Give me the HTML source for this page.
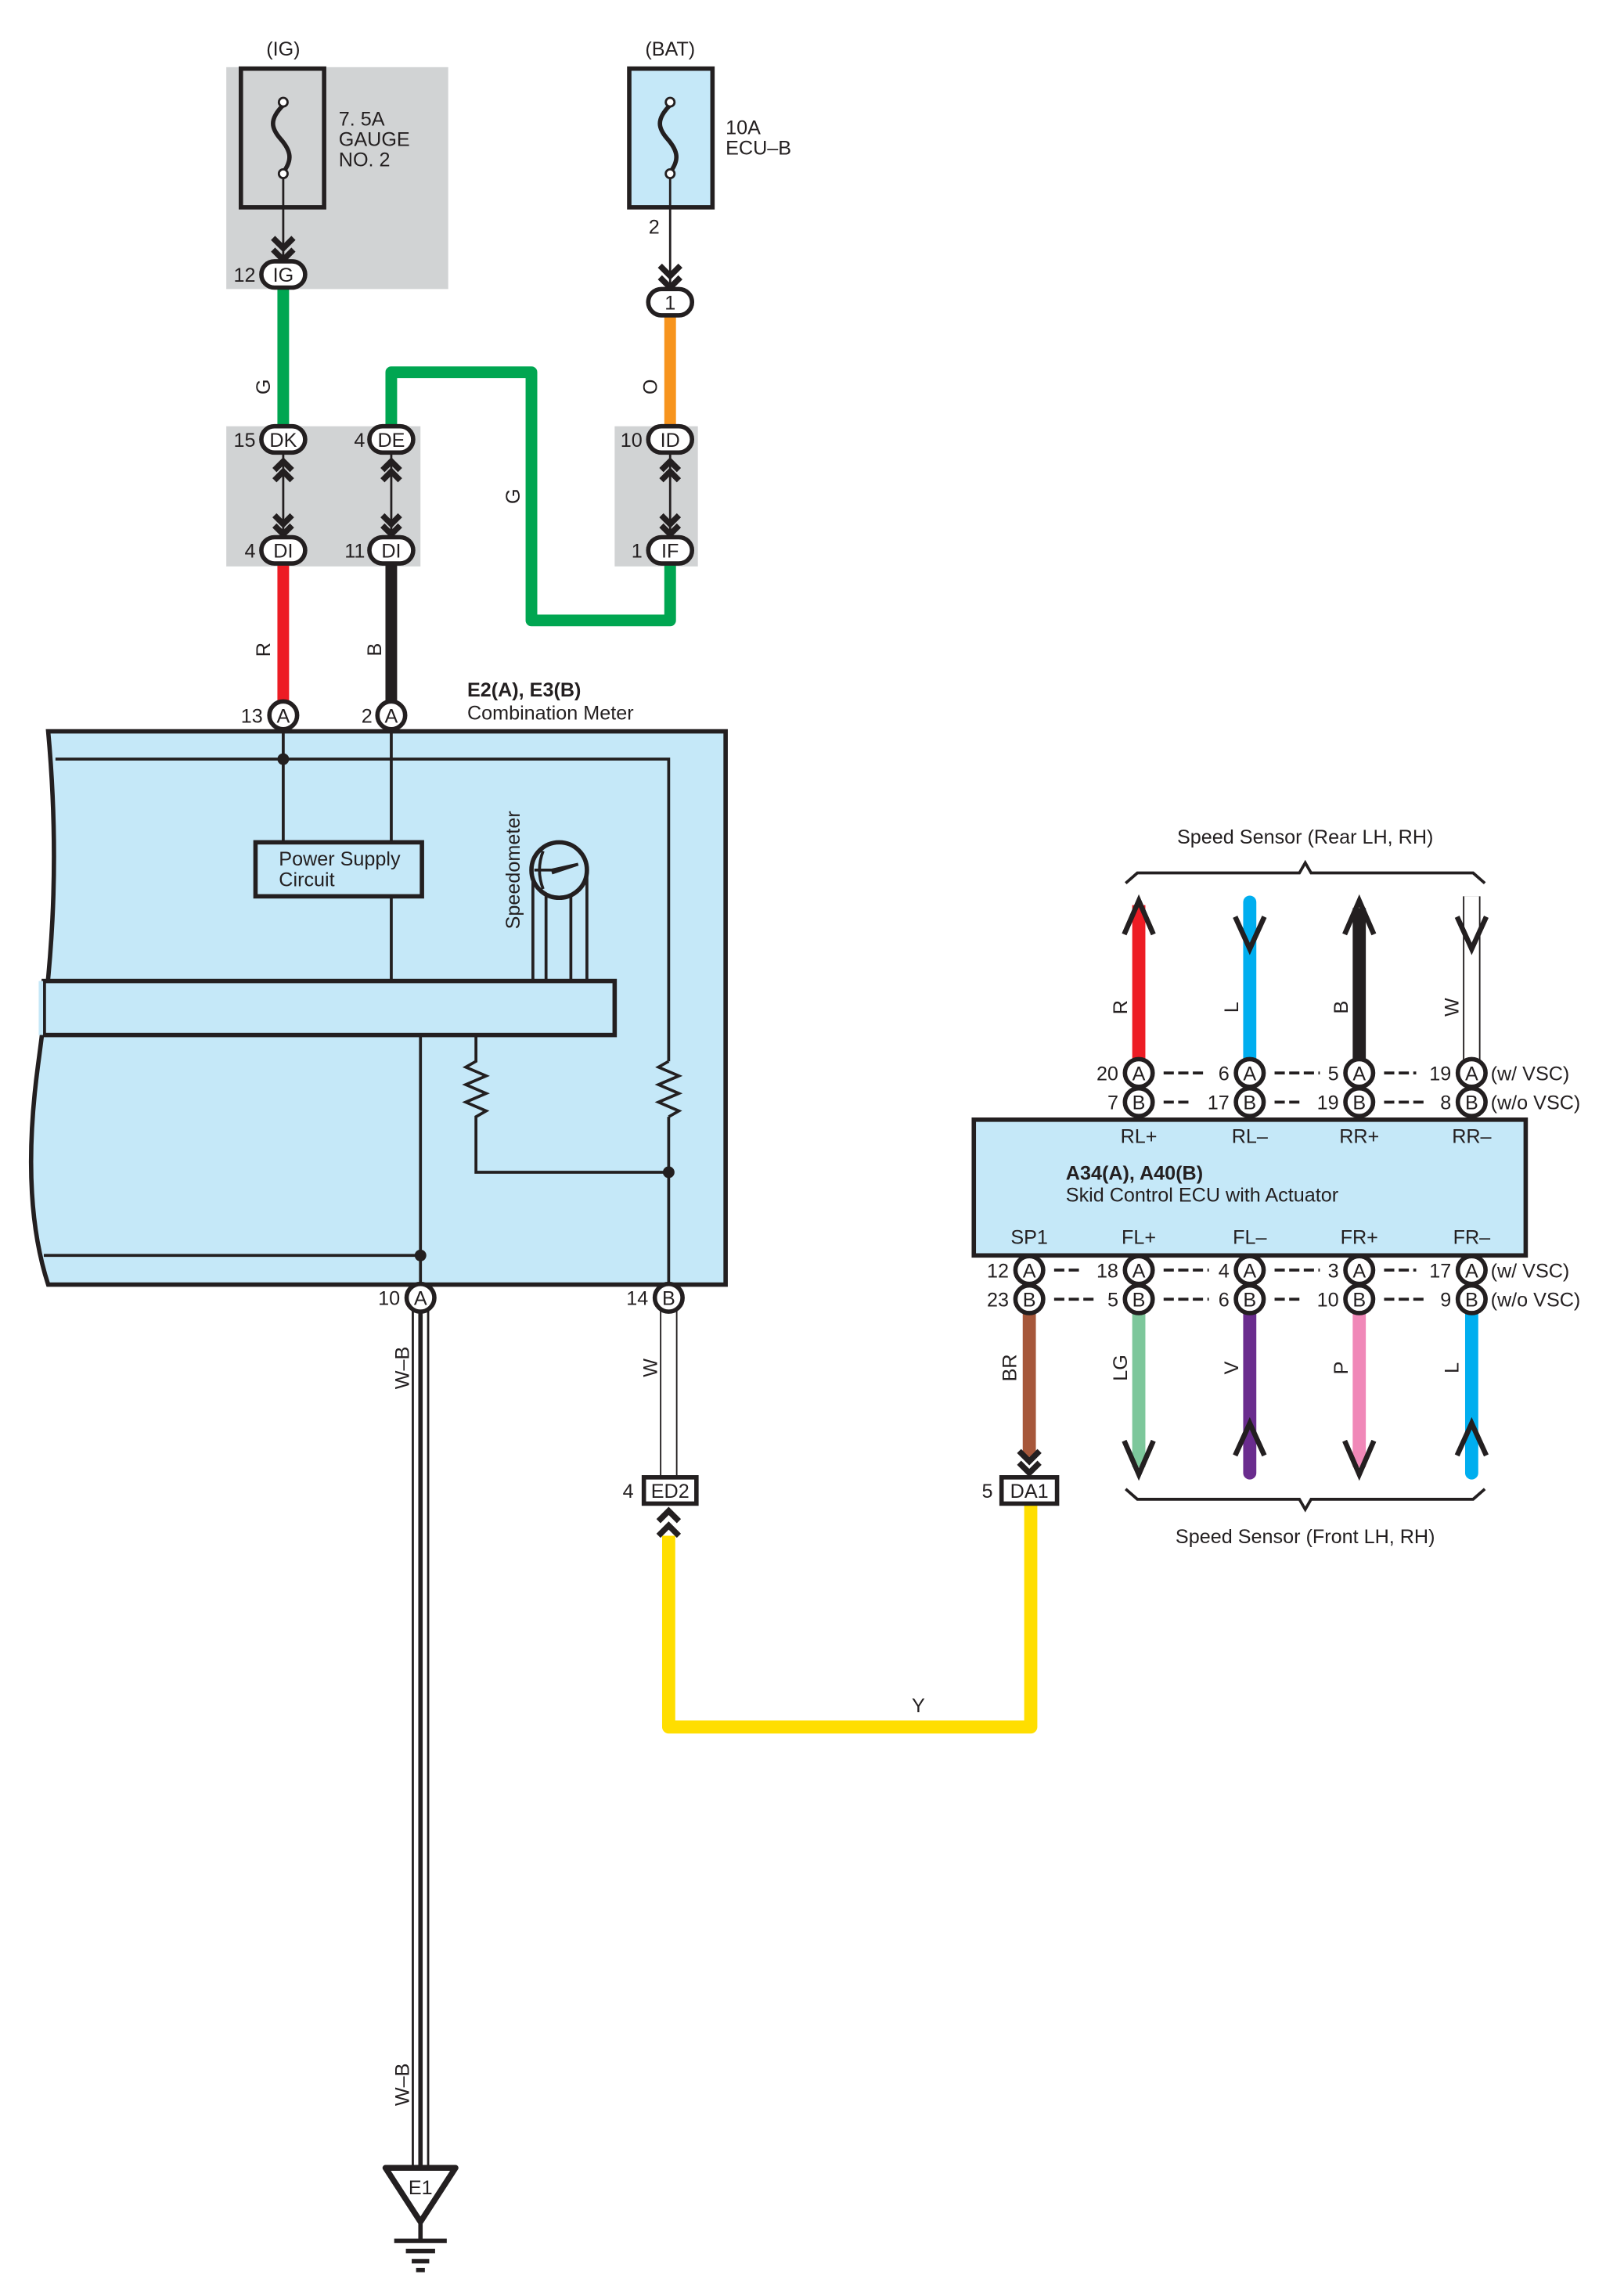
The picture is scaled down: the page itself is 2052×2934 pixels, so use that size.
<!DOCTYPE html>
<html><head><meta charset="utf-8"><style>
html,body{margin:0;padding:0;background:#fff}
svg{display:block}
text{font-family:"Liberation Sans",sans-serif;fill:#231f20}
</style></head><body>
<svg width="2052" height="2934" viewBox="0 0 1100 1572.8" xmlns="http://www.w3.org/2000/svg">
<g font-size="13.5">
<!-- ===== TOP FUSES ===== -->
<text x="194" y="38" text-anchor="middle">(IG)</text>
<text x="459" y="38" text-anchor="middle">(BAT)</text>
<rect x="155" y="46" width="152" height="152" fill="#d1d3d4"/>
<rect x="165" y="47" width="57" height="95" fill="none" stroke="#231f20" stroke-width="3"/>
<path d="M194 72 C184 82,186 88,192 95 C200 104,200 110,194 118" fill="none" stroke="#231f20" stroke-width="3"/>
<circle cx="194" cy="70" r="3" fill="#fff" stroke="#231f20" stroke-width="1.5"/>
<circle cx="194" cy="119" r="3" fill="#fff" stroke="#231f20" stroke-width="1.5"/>
<line x1="194" y1="122" x2="194" y2="178" stroke="#231f20" stroke-width="1.5"/>
<path d="M187 163 L194 170 L201 163 M187 171 L194 178 L201 171" fill="none" stroke="#231f20" stroke-width="4"/>
<text x="232" y="86">7. 5A</text><text x="232" y="100">GAUGE</text><text x="232" y="114">NO. 2</text>

<rect x="431" y="47" width="57" height="95" fill="#c5e8f8" stroke="#231f20" stroke-width="3"/>
<path d="M459 72 C449 82,451 88,457 95 C465 104,465 110,459 118" fill="none" stroke="#231f20" stroke-width="3"/>
<circle cx="459" cy="70" r="3" fill="#fff" stroke="#231f20" stroke-width="1.5"/>
<circle cx="459" cy="119" r="3" fill="#fff" stroke="#231f20" stroke-width="1.5"/>
<line x1="459" y1="122" x2="459" y2="197" stroke="#231f20" stroke-width="1.5"/>
<path d="M452 182 L459 189 L466 182 M452 190 L459 197 L466 190" fill="none" stroke="#231f20" stroke-width="4"/>
<text x="497" y="92">10A</text><text x="497" y="106">ECU–B</text>
<text x="448" y="160" text-anchor="middle">2</text>

<!-- gray junction boxes -->
<rect x="155" y="292" width="133" height="96" fill="#d1d3d4"/>
<rect x="421" y="292" width="57" height="96" fill="#d1d3d4"/>

<!-- colored wires top -->
<line x1="194" y1="198" x2="194" y2="292" stroke="#00a651" stroke-width="8"/>
<line x1="459" y1="217" x2="459" y2="292" stroke="#f7941d" stroke-width="8"/>
<path d="M268 292 V255 H364 V425 H459 V387" fill="none" stroke="#00a651" stroke-width="8" stroke-linejoin="round"/>
<line x1="194" y1="387" x2="194" y2="482" stroke="#ed1c24" stroke-width="8"/>
<line x1="268" y1="387" x2="268" y2="482" stroke="#231f20" stroke-width="8"/>
<text transform="translate(185,265) rotate(-90)" text-anchor="middle">G</text>
<text transform="translate(450,265) rotate(-90)" text-anchor="middle">O</text>
<text transform="translate(356,340) rotate(-90)" text-anchor="middle">G</text>
<text transform="translate(185,445) rotate(-90)" text-anchor="middle">R</text>
<text transform="translate(261,445) rotate(-90)" text-anchor="middle">B</text>

<!-- double arrow links -->
<g fill="none" stroke="#231f20">
<line x1="194" y1="310" x2="194" y2="368" stroke-width="1.5"/>
<line x1="268" y1="310" x2="268" y2="368" stroke-width="1.5"/>
<line x1="459" y1="310" x2="459" y2="368" stroke-width="1.5"/>
<path d="M188 322 L194 316 L200 322 M188 329 L194 323 L200 329 M188 353 L194 359 L200 353 M188 360 L194 366 L200 360" stroke-width="4"/>
<path d="M262 322 L268 316 L274 322 M262 329 L268 323 L274 329 M262 353 L268 359 L274 353 M262 360 L268 366 L274 360" stroke-width="4"/>
<path d="M453 322 L459 316 L465 322 M453 329 L459 323 L465 329 M453 353 L459 359 L465 353 M453 360 L459 366 L465 360" stroke-width="4"/>
</g>

<!-- oval connectors -->
<g fill="#fff" stroke="#231f20" stroke-width="3">
<rect x="179" y="179" width="30" height="18" rx="9"/>
<rect x="444" y="198" width="30" height="18" rx="9"/>
<rect x="179" y="292" width="30" height="18" rx="9"/>
<rect x="253" y="292" width="30" height="18" rx="9"/>
<rect x="179" y="368" width="30" height="18" rx="9"/>
<rect x="253" y="368" width="30" height="18" rx="9"/>
<rect x="444" y="292" width="30" height="18" rx="9"/>
<rect x="444" y="368" width="30" height="18" rx="9"/>
</g>
<g text-anchor="middle">
<text x="194" y="193">IG</text><text x="459" y="212">1</text>
<text x="194" y="306">DK</text><text x="268" y="306">DE</text>
<text x="194" y="382">DI</text><text x="268" y="382">DI</text>
<text x="459" y="306">ID</text><text x="459" y="382">IF</text>
</g>
<g text-anchor="end">
<text x="175" y="193">12</text>
<text x="175" y="306">15</text><text x="250" y="306">4</text>
<text x="175" y="382">4</text><text x="250" y="382">11</text>
<text x="440" y="306">10</text><text x="440" y="382">1</text>
</g>

<!-- ===== COMBINATION METER ===== -->
<path d="M33 501 H497 V880 H33 C20 840,18 790,26 730 C34 670,42 600,33 501 Z" fill="#c5e8f8" stroke="#231f20" stroke-width="3"/>
<g fill="none" stroke="#231f20" stroke-width="2">
<path d="M38 520 H458 V727 M458 765 V880"/>
<path d="M458 727 l-7 4 l14 6 l-14 6 l14 6 l-14 6 l14 6 l-7 4"/>
<line x1="194" y1="501" x2="194" y2="577"/>
<line x1="268" y1="501" x2="268" y2="672"/>
<path d="M326 709 V727 l-7 4 l14 6 l-14 6 l14 6 l-14 6 l14 6 l-7 4 V803 H458"/>
<line x1="288" y1="709" x2="288" y2="880"/>
<line x1="30" y1="860" x2="288" y2="860"/>
<path d="M365 596 V672 M374 612 V672 M391 612 V672 M402 596 V672"/>
</g>
<rect x="175" y="577" width="114" height="37" fill="#c5e8f8" stroke="#231f20" stroke-width="3"/>
<text x="191" y="593">Power Supply</text><text x="191" y="607">Circuit</text>
<rect x="30" y="672" width="391" height="37" fill="#c5e8f8" stroke="#231f20" stroke-width="3"/>
<line x1="28" y1="672" x2="28" y2="709" stroke="#c5e8f8" stroke-width="3"/>
<circle cx="383" cy="596" r="19" fill="#c5e8f8" stroke="#231f20" stroke-width="3"/>
<path d="M372 583 Q367 596 372 609 M366 596 H378 L396 592 L378 598" fill="none" stroke="#231f20" stroke-width="2"/>
<text transform="translate(356,596) rotate(-90)" text-anchor="middle">Speedometer</text>
<g fill="#231f20">
<circle cx="194" cy="520" r="4"/><circle cx="458" cy="803" r="4"/><circle cx="288" cy="860" r="4"/>
</g>
<text x="320" y="477" font-weight="bold">E2(A), E3(B)</text>
<text x="320" y="493">Combination Meter</text>

<!-- ===== WIRES BELOW METER ===== -->
<line x1="288" y1="898" x2="288" y2="1485" stroke="#231f20" stroke-width="12"/>
<line x1="288" y1="898" x2="288" y2="1485" stroke="#fff" stroke-width="9"/>
<line x1="288" y1="898" x2="288" y2="1485" stroke="#231f20" stroke-width="3"/>
<line x1="458" y1="898" x2="458" y2="1012" stroke="#231f20" stroke-width="12"/>
<line x1="458" y1="898" x2="458" y2="1012" stroke="#fff" stroke-width="10"/>
<text transform="translate(280,937) rotate(-90)" text-anchor="middle">W–B</text>
<text transform="translate(280,1428) rotate(-90)" text-anchor="middle">W–B</text>
<text transform="translate(450,937) rotate(-90)" text-anchor="middle">W</text>
<!-- ground -->
<path d="M264 1485 H312 L288 1522 Z" fill="#fff" stroke="#231f20" stroke-width="4" stroke-linejoin="round"/>
<text x="288" y="1503" text-anchor="middle">E1</text>
<g stroke="#231f20" stroke-width="3">
<line x1="288" y1="1522" x2="288" y2="1535"/>
<line x1="270" y1="1535" x2="306" y2="1535"/>
<line x1="278" y1="1542" x2="298" y2="1542"/>
<line x1="282" y1="1549" x2="294" y2="1549"/>
<line x1="285" y1="1555" x2="291" y2="1555"/>
</g>

<!-- yellow -->
<path d="M458 1052 V1183 H706 V1030" fill="none" stroke="#ffde00" stroke-width="9" stroke-linejoin="round"/>
<text x="629" y="1173" text-anchor="middle">Y</text>
<path d="M451 1042 L458 1035 L465 1042 M451 1052 L458 1045 L465 1052" fill="none" stroke="#231f20" stroke-width="4"/>
<rect x="441" y="1012" width="36" height="18" fill="#fff" stroke="#231f20" stroke-width="3"/>
<text x="459" y="1026" text-anchor="middle">ED2</text>
<text x="434" y="1026" text-anchor="end">4</text>
<!-- brown -->
<line x1="705" y1="899" x2="705" y2="998" stroke="#a6573a" stroke-width="9"/>
<path d="M698 994 L705 1001 L712 994 M698 1002 L705 1009 L712 1002" fill="none" stroke="#231f20" stroke-width="4"/>
<rect x="686" y="1012" width="38" height="18" fill="#fff" stroke="#231f20" stroke-width="3"/>
<text x="705" y="1026" text-anchor="middle">DA1</text>
<text x="680" y="1026" text-anchor="end">5</text>
<text transform="translate(696,937) rotate(-90)" text-anchor="middle">BR</text>

<!-- ===== ECU ===== -->
<text x="894" y="578" text-anchor="middle">Speed Sensor (Rear LH,  RH)</text>
<path d="M771 605 L779 598 H890 L894 591 L898 598 H1009 L1017 605" fill="none" stroke="#231f20" stroke-width="2"/>
<!-- top wires -->
<line x1="780" y1="620" x2="780" y2="727" stroke="#ed1c24" stroke-width="9"/>
<path d="M770 640 L780 617 L790 640" fill="none" stroke="#231f20" stroke-width="3.5"/>
<line x1="856" y1="618" x2="856" y2="727" stroke="#00aeef" stroke-width="9" stroke-linecap="round"/>
<path d="M846 628 L856 650 L866 628" fill="none" stroke="#231f20" stroke-width="3.5"/>
<line x1="931" y1="622" x2="931" y2="727" stroke="#231f20" stroke-width="9"/>
<path d="M921 640 L931 617 L941 640" fill="none" stroke="#231f20" stroke-width="3.5"/>
<line x1="1008" y1="614" x2="1008" y2="727" stroke="#231f20" stroke-width="12"/>
<line x1="1008" y1="614" x2="1008" y2="727" stroke="#fff" stroke-width="10"/>
<path d="M998 628 L1008 650 L1018 628" fill="none" stroke="#231f20" stroke-width="3.5"/>
<g text-anchor="middle">
<text transform="translate(772,690) rotate(-90)">R</text>
<text transform="translate(848,690) rotate(-90)">L</text>
<text transform="translate(923,690) rotate(-90)">B</text>
<text transform="translate(999,690) rotate(-90)">W</text>
</g>
<!-- bottom wires -->
<line x1="780" y1="899" x2="780" y2="1005" stroke="#7dc79b" stroke-width="9"/>
<path d="M770 987 L780 1010 L790 987" fill="none" stroke="#231f20" stroke-width="3.5"/>
<line x1="856" y1="899" x2="856" y2="1009" stroke="#6a2c8e" stroke-width="9" stroke-linecap="round"/>
<path d="M846 997 L856 975 L866 997" fill="none" stroke="#231f20" stroke-width="3.5"/>
<line x1="931" y1="899" x2="931" y2="1005" stroke="#f088b8" stroke-width="9"/>
<path d="M921 987 L931 1010 L941 987" fill="none" stroke="#231f20" stroke-width="3.5"/>
<line x1="1008" y1="899" x2="1008" y2="1009" stroke="#00aeef" stroke-width="9" stroke-linecap="round"/>
<path d="M998 997 L1008 975 L1018 997" fill="none" stroke="#231f20" stroke-width="3.5"/>
<g text-anchor="middle">
<text transform="translate(772,937) rotate(-90)">LG</text>
<text transform="translate(848,937) rotate(-90)">V</text>
<text transform="translate(923,937) rotate(-90)">P</text>
<text transform="translate(999,937) rotate(-90)">L</text>
</g>
<path d="M771 1020 L779 1027 H890 L894 1034 L898 1027 H1009 L1017 1020" fill="none" stroke="#231f20" stroke-width="2"/>
<text x="894" y="1057" text-anchor="middle">Speed Sensor (Front LH,  RH)</text>

<rect x="667" y="767" width="378" height="93" fill="#c5e8f8" stroke="#231f20" stroke-width="3"/>
<g text-anchor="middle">
<text x="780" y="783">RL+</text><text x="856" y="783">RL–</text><text x="931" y="783">RR+</text><text x="1008" y="783">RR–</text>
<text x="705" y="852">SP1</text><text x="780" y="852">FL+</text><text x="856" y="852">FL–</text><text x="931" y="852">FR+</text><text x="1008" y="852">FR–</text>
</g>
<text x="730" y="808" font-weight="bold">A34(A), A40(B)</text>
<text x="730" y="823">Skid Control ECU with Actuator</text>

<!-- letter connectors -->
<g fill="#fff" stroke="#231f20" stroke-width="3">
<circle cx="194" cy="490" r="9.5"/><circle cx="268" cy="490" r="9.5"/>
<circle cx="288" cy="889" r="9.5"/><circle cx="458" cy="889" r="9.5"/>
<circle cx="780" cy="735" r="9.5"/><circle cx="856" cy="735" r="9.5"/><circle cx="931" cy="735" r="9.5"/><circle cx="1008" cy="735" r="9.5"/>
<circle cx="780" cy="755" r="9.5"/><circle cx="856" cy="755" r="9.5"/><circle cx="931" cy="755" r="9.5"/><circle cx="1008" cy="755" r="9.5"/>
<circle cx="705" cy="870" r="9.5"/><circle cx="780" cy="870" r="9.5"/><circle cx="856" cy="870" r="9.5"/><circle cx="931" cy="870" r="9.5"/><circle cx="1008" cy="870" r="9.5"/>
<circle cx="705" cy="890" r="9.5"/><circle cx="780" cy="890" r="9.5"/><circle cx="856" cy="890" r="9.5"/><circle cx="931" cy="890" r="9.5"/><circle cx="1008" cy="890" r="9.5"/>
</g>
<g text-anchor="middle">
<text x="194" y="495">A</text><text x="268" y="495">A</text>
<text x="288" y="894">A</text><text x="458" y="894">B</text>
<text x="780" y="740">A</text><text x="856" y="740">A</text><text x="931" y="740">A</text><text x="1008" y="740">A</text>
<text x="780" y="760">B</text><text x="856" y="760">B</text><text x="931" y="760">B</text><text x="1008" y="760">B</text>
<text x="705" y="875">A</text><text x="780" y="875">A</text><text x="856" y="875">A</text><text x="931" y="875">A</text><text x="1008" y="875">A</text>
<text x="705" y="895">B</text><text x="780" y="895">B</text><text x="856" y="895">B</text><text x="931" y="895">B</text><text x="1008" y="895">B</text>
</g>
<g text-anchor="end">
<text x="180" y="495">13</text><text x="255" y="495">2</text>
<text x="274" y="894">10</text><text x="444" y="894">14</text>
<text x="766" y="740">20</text><text x="842" y="740">6</text><text x="917" y="740">5</text><text x="994" y="740">19</text>
<text x="766" y="760">7</text><text x="842" y="760">17</text><text x="917" y="760">19</text><text x="994" y="760">8</text>
<text x="691" y="875">12</text><text x="766" y="875">18</text><text x="842" y="875">4</text><text x="917" y="875">3</text><text x="994" y="875">17</text>
<text x="691" y="895">23</text><text x="766" y="895">5</text><text x="842" y="895">6</text><text x="917" y="895">10</text><text x="994" y="895">9</text>
</g>
<text x="1021" y="740">(w/ VSC)</text><text x="1021" y="760">(w/o VSC)</text>
<text x="1021" y="875">(w/ VSC)</text><text x="1021" y="895">(w/o VSC)</text>
<g stroke="#231f20" stroke-width="2" stroke-dasharray="7,3">
<line x1="797" y1="735" x2="826" y2="735"/><line x1="873" y1="735" x2="904" y2="735"/><line x1="948" y1="735" x2="970" y2="735"/>
<line x1="797" y1="755" x2="816" y2="755"/><line x1="873" y1="755" x2="893" y2="755"/><line x1="948" y1="755" x2="978" y2="755"/>
<line x1="722" y1="870" x2="742" y2="870"/><line x1="797" y1="870" x2="828" y2="870"/><line x1="873" y1="870" x2="904" y2="870"/><line x1="948" y1="870" x2="970" y2="870"/>
<line x1="722" y1="890" x2="752" y2="890"/><line x1="797" y1="890" x2="828" y2="890"/><line x1="873" y1="890" x2="893" y2="890"/><line x1="948" y1="890" x2="978" y2="890"/>
</g>
</g>
</svg>
</body></html>
